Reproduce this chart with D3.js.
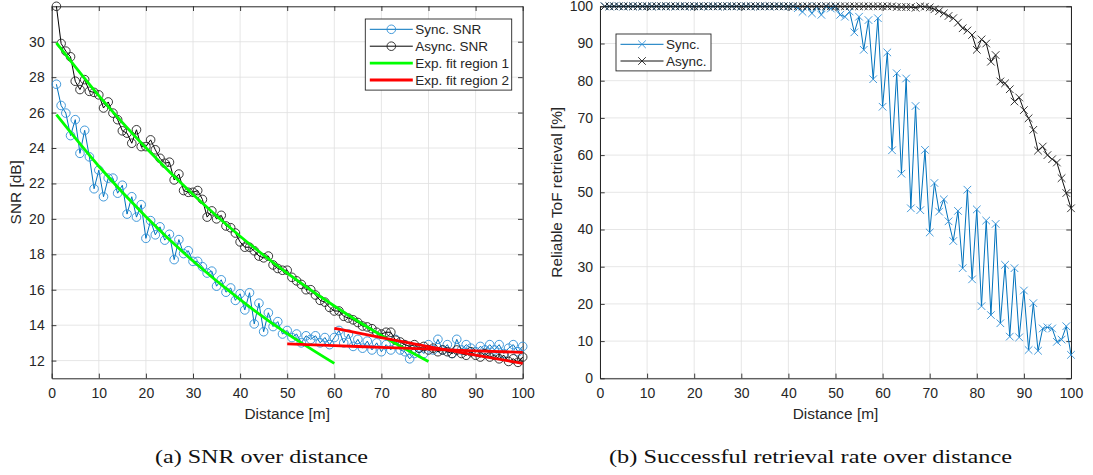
<!DOCTYPE html>
<html>
<head>
<meta charset="utf-8">
<script src="https://cdn.jsdelivr.net/npm/d3@7"></script>
<style>
  body { margin: 0; background: #fff; }
  text { font-family: "Liberation Sans", Arial, Helvetica, sans-serif; fill: #262626; }
</style>
</head>
<body>
<script>
// distances in metres, one measurement per metre
var distance = [1,2,3,4,5,6,7,8,9,10,11,12,13,14,15,16,17,18,19,20,
  21,22,23,24,25,26,27,28,29,30,31,32,33,34,35,36,37,38,39,40,
  41,42,43,44,45,46,47,48,49,50,51,52,53,54,55,56,57,58,59,60,
  61,62,63,64,65,66,67,68,69,70,71,72,73,74,75,76,77,78,79,80,
  81,82,83,84,85,86,87,88,89,90,91,92,93,94,95,96,97,98,99,100];

// (a) SNR [dB]
var syncSnr = [27.6,26.4,25.97,24.7,25.6,23.7,25.0,23.5,21.7,22.75,
  21.25,22.3,22.3,21.45,21.9,20.27,21.25,20.1,20.8,18.9,
  19.9,19.1,19.55,18.8,19.13,17.7,18.83,18.04,18.2,17.6,
  17.6,17.3,16.94,17.05,16.2,16.56,15.86,16.1,15.4,15.77,
  14.86,15.83,14.07,15.24,13.63,14.7,13.92,14.2,13.5,13.7,
  13.3,13.5,13.0,13.4,13.2,13.4,13.0,13.3,12.9,13.3,
  13.7,13.0,13.5,12.8,13.2,12.7,13.1,12.6,13.0,12.5,
  12.9,12.6,13.2,12.6,12.5,12.1,12.4,12.7,12.4,12.9,
  12.6,13.2,12.6,12.9,12.4,13.2,12.6,12.9,12.7,12.5,
  12.8,12.6,12.9,12.6,12.9,12.4,12.7,12.9,12.5,12.8];
var asyncSnr = [32.0,29.9,29.47,29.15,27.77,27.3,27.86,27.2,27.14,27.0,
  26.26,26.6,25.97,25.6,24.97,24.84,24.27,25.03,24.08,24.08,
  24.46,23.9,23.42,23.14,23.2,22.2,22.53,21.6,21.5,21.5,
  21.6,21.1,20.1,20.45,20.0,20.2,19.6,19.5,19.2,18.7,
  18.4,18.4,18.2,17.9,17.8,17.9,17.4,17.2,17.1,17.1,
  16.7,16.5,16.3,16.0,16.0,15.7,15.4,15.3,15.0,14.8,
  14.8,14.5,14.4,14.3,14.15,13.95,13.9,13.8,13.6,13.5,
  13.6,13.6,13.15,13.05,12.9,12.8,12.9,12.7,12.8,12.6,
  12.7,12.5,12.6,12.5,12.4,12.6,12.4,12.3,12.5,12.3,
  12.2,12.4,12.2,12.3,12.1,12.3,11.95,12.1,11.9,12.2];

// exponential fit curves at a few distances
var fit1SyncX = [1,10,20,30,40,50,60];
var fit1SyncY = [25.88,22.97,20.12,17.62,15.44,13.52,11.84];
var fit1AsyncX = [1,10,20,30,40,50,60,70,80];
var fit1AsyncY = [29.94,26.96,24.01,21.37,19.02,16.94,15.08,13.42,11.95];
var fit2SyncX = [50,60,70,80,90,100];
var fit2SyncY = [12.94,12.84,12.75,12.65,12.55,12.46];
var fit2AsyncX = [60,70,80,90,100];
var fit2AsyncY = [13.82,13.30,12.79,12.31,11.84];

// (b) reliable ToF retrieval [%]
var syncRate = [100,100,100,100,100,100,100,100,100,100,
  100,100,100,100,100,100,100,100,100,100,
  100,100,100,100,100,100,100,100,100,100,
  100,100,100,100,100,100,100,100,100,100,
  100,99.5,98.5,100,98.1,100,97.7,100,99.4,100,
  97.7,97.2,98.6,93.0,97.2,88.3,96.3,80.4,96.8,73.0,
  87.6,61.3,82.0,55.0,80.6,45.7,73.2,45.2,61.4,39.2,
  52.5,44.8,48.1,42.2,36.9,45.0,29.6,50.7,26.6,45.4,
  19.4,42.4,17.0,41.5,14.8,30.5,11.2,29.6,11.0,23.6,
  7.6,20.2,7.4,13.4,13.7,13.4,9.8,10.4,14.0,6.3];
var asyncRate = [100,100,100,100,100,100,100,100,100,100,
  100,100,100,100,100,100,100,100,100,100,
  100,100,100,100,100,100,100,100,100,100,
  100,100,100,100,100,100,100,100,100,100,
  100,100,100,100,100,100,100,100,100,100,
  100,100,100,100,100,100,100,100,100,100,
  100,100,99.8,99.8,99.8,99.8,99.6,100,99.9,99.7,
  99.2,98.7,98.1,97.4,96.8,95.6,94.1,93.5,92.3,88.3,
  91.1,90.0,85.1,86.9,79.8,79.3,77.7,74.4,75.5,72.1,
  69.9,66.8,61.2,62.3,60.0,58.9,58.0,53.8,49.8,45.7];

var xTicks = [0,10,20,30,40,50,60,70,80,90,100];
var snrTicks = [12,14,16,18,20,22,24,26,28,30];
var rateTicks = [0,10,20,30,40,50,60,70,80,90,100];

var blue = "#0072BD", blueMarker = "#2f8fd6", black = "#000";

var svg = d3.select("body").append("svg")
  .attr("width", 1093).attr("height", 475);

var plotTop = 6.3, plotBottom = 378.3, tickLen = 4.7;

function panel(left, right, yDomain, yTicks, yLabel, labelOffset) {
  var x = d3.scaleLinear().domain([0, 100]).range([left, right]);
  var y = d3.scaleLinear().domain(yDomain).range([plotBottom, plotTop]);
  var g = svg.append("g");

  // grid
  g.selectAll(".gx").data(xTicks).enter().append("line")
    .attr("x1", x).attr("x2", x).attr("y1", plotTop).attr("y2", plotBottom)
    .attr("stroke", "#dfdfdf").attr("stroke-width", 0.8);
  g.selectAll(".gy").data(yTicks).enter().append("line")
    .attr("y1", y).attr("y2", y).attr("x1", left).attr("x2", right)
    .attr("stroke", "#dfdfdf").attr("stroke-width", 0.8);

  // box + inward ticks on all four sides
  var axes = [
    [d3.axisBottom(x).tickValues(xTicks).tickPadding(10), "translate(0," + plotBottom + ")"],
    [d3.axisTop(x).tickValues(xTicks).tickFormat(""), "translate(0," + plotTop + ")"],
    [d3.axisLeft(y).tickValues(yTicks).tickPadding(7), "translate(" + left + ",0)"],
    [d3.axisRight(y).tickValues(yTicks).tickFormat(""), "translate(" + right + ",0)"]
  ];
  axes.forEach(function(a) {
    var ag = g.append("g").attr("transform", a[1])
      .call(a[0].tickSizeInner(-tickLen).tickSizeOuter(0));
    ag.attr("font-size", 14).attr("font-family", null);
    ag.select(".domain").attr("stroke", "#262626").attr("stroke-width", 1);
    ag.selectAll(".tick line").attr("stroke", "#262626").attr("stroke-width", 0.9);
    ag.selectAll(".tick text").attr("fill", "#262626");
  });

  g.append("text")
    .attr("x", (left + right) / 2).attr("y", 418.5)
    .attr("text-anchor", "middle").attr("font-size", 15.4)
    .text("Distance [m]");
  g.append("text")
    .attr("transform", "translate(" + (left - labelOffset) + "," + ((plotTop + plotBottom) / 2) + ") rotate(-90)")
    .attr("text-anchor", "middle").attr("font-size", 15.4)
    .text(yLabel);

  return {x: x, y: y, g: g};
}

function series(p, xs, ys, color, markerColor, marker) {
  var pts = d3.zip(xs, ys);
  var line = d3.line().x(function(d) { return p.x(d[0]); }).y(function(d) { return p.y(d[1]); });
  p.g.append("path").datum(pts).attr("d", line)
    .attr("fill", "none").attr("stroke", color).attr("stroke-width", 1);
  var m = p.g.append("g").selectAll("g").data(pts).enter().append("g")
    .attr("transform", function(d) { return "translate(" + p.x(d[0]) + "," + p.y(d[1]) + ")"; });
  drawMarker(m, marker, markerColor);
}

function drawMarker(sel, marker, color) {
  if (marker === "o") {
    sel.append("circle").attr("r", 4.3)
      .attr("fill", "none").attr("stroke", color).attr("stroke-width", 0.9);
  } else {
    sel.append("path").attr("d", "M-3.8,-3.8L3.8,3.8M-3.8,3.8L3.8,-3.8")
      .attr("fill", "none").attr("stroke", color).attr("stroke-width", 0.9);
  }
}

function fit(p, xs, ys, color) {
  var line = d3.line().curve(d3.curveNatural)
    .x(function(d) { return p.x(d[0]); }).y(function(d) { return p.y(d[1]); });
  p.g.append("path").datum(d3.zip(xs, ys)).attr("d", line)
    .attr("fill", "none").attr("stroke", color).attr("stroke-width", 2.8);
}

function legend(x0, y0, w, rows, rowH) {
  var lg = svg.append("g").attr("transform", "translate(" + x0 + "," + y0 + ")");
  lg.append("rect").attr("width", w).attr("height", rows.length * rowH + 3.5)
    .attr("fill", "#fff").attr("stroke", "#262626").attr("stroke-width", 0.9);
  var r = lg.selectAll(".row").data(rows).enter().append("g")
    .attr("transform", function(d, i) { return "translate(0," + (10.3 + i * rowH) + ")"; });
  r.append("line").attr("x1", 4.5).attr("x2", 47.5)
    .attr("stroke", function(d) { return d.color; })
    .attr("stroke-width", function(d) { return d.width; });
  r.each(function(d) {
    if (d.marker) drawMarker(d3.select(this).append("g").attr("transform", "translate(26,0)"), d.marker, d.markerColor);
  });
  r.append("text").attr("x", 50).attr("dy", "0.35em").attr("font-size", 13.5)
    .text(function(d) { return d.label; });
}

// (a) SNR over distance
var pa = panel(51.7, 522.7, [11, 32], snrTicks, "SNR [dB]", 30.5);
series(pa, distance, syncSnr, blue, blueMarker, "o");
series(pa, distance, asyncSnr, black, "#222", "o");
fit(pa, fit1SyncX, fit1SyncY, "#00ff00");
fit(pa, fit1AsyncX, fit1AsyncY, "#00ff00");
fit(pa, fit2SyncX, fit2SyncY, "#ff0000");
fit(pa, fit2AsyncX, fit2AsyncY, "#ff0000");
legend(365.3, 19, 146.4, [
  {label: "Sync. SNR", color: blue, width: 1, marker: "o", markerColor: blueMarker},
  {label: "Async. SNR", color: black, width: 1, marker: "o", markerColor: "#222"},
  {label: "Exp. fit region 1", color: "#00ff00", width: 2.8},
  {label: "Exp. fit region 2", color: "#ff0000", width: 2.8}
], 16.9);

// (b) Successful retrieval rate over distance
var pb = panel(600, 1071, [0, 100], rateTicks, "Reliable ToF retrieval [%]", 38);
series(pb, distance, syncRate, blue, blueMarker, "x");
series(pb, distance, asyncRate, "#111", "#222", "x");
legend(616, 34, 95, [
  {label: "Sync.", color: blue, width: 1, marker: "x", markerColor: blueMarker},
  {label: "Async.", color: "#111", width: 1, marker: "x", markerColor: "#222"}
], 16.7);

// captions
svg.append("text").attr("x", 155).attr("y", 463)
  .attr("textLength", 213).attr("lengthAdjust", "spacingAndGlyphs")
  .style("font-family", "'Liberation Serif', 'Times New Roman', serif")
  .attr("font-size", 19).style("fill", "#111")
  .text("(a) SNR over distance");
svg.append("text").attr("x", 609).attr("y", 463)
  .attr("textLength", 403).attr("lengthAdjust", "spacingAndGlyphs")
  .style("font-family", "'Liberation Serif', 'Times New Roman', serif")
  .attr("font-size", 19).style("fill", "#111")
  .text("(b) Successful retrieval rate over distance");
</script>
</body>
</html>
